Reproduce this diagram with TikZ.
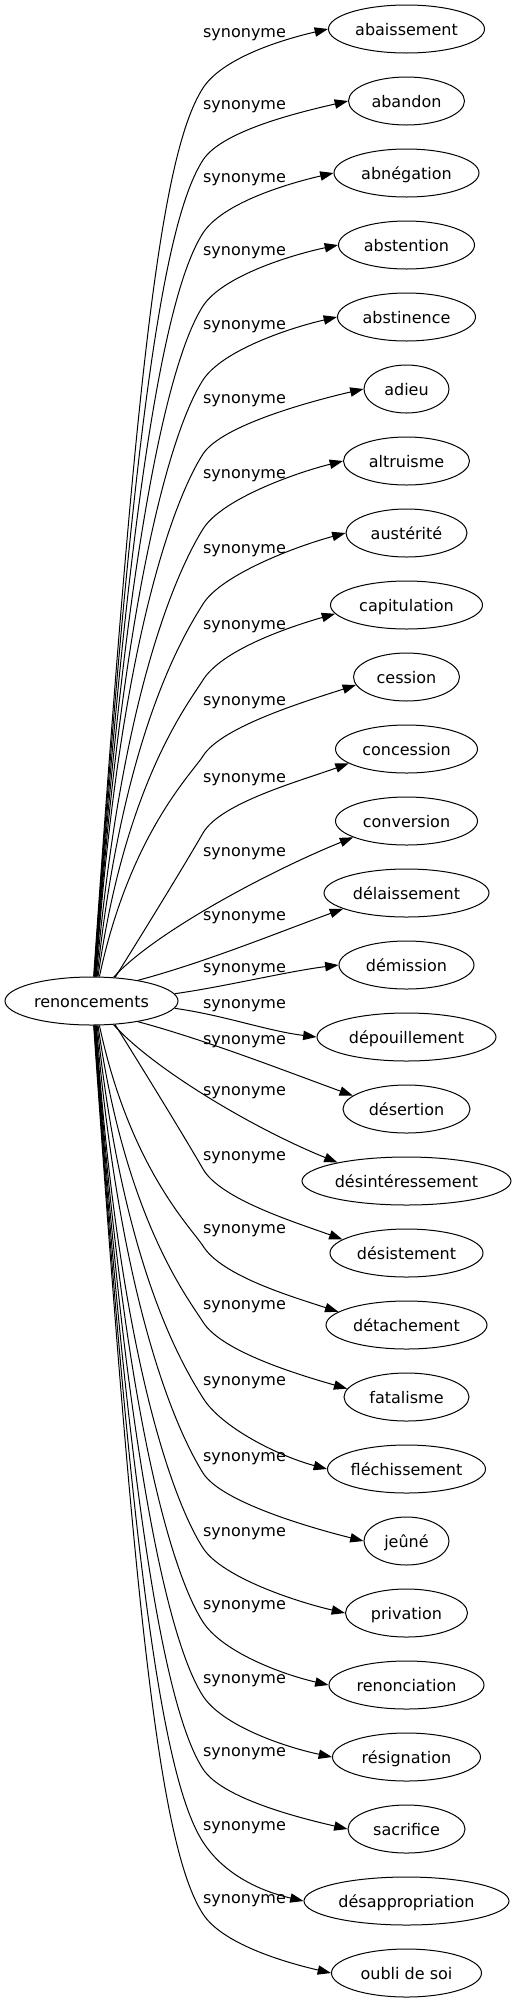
\documentclass[tikz,border=0pt]{standalone}
\usepackage{fontspec}
\setmainfont{DejaVu Sans}
\usetikzlibrary{shapes.geometric,arrows.meta}
\newcommand\synedge[8]{%
  \draw[syn] (root.#2) .. controls +(#3:#7) and +(#5+180:#8) .. (203,#4)
    .. controls +(#5:35) and +(#6+180:50) .. (#1);}
\begin{document}
\begin{tikzpicture}[x=0.75pt,y=0.75pt,
  every node/.style={font=\fontsize{12}{14}\selectfont},
  tgt/.style={draw, ellipse, inner sep=0pt, minimum height=36pt,
    minimum width=#1*0.75pt, text height=9pt, text depth=0pt, line width=0.75pt},
  lbl/.style={inner sep=0pt},
  syn/.style={line width=0.75pt, -{Triangle[length=10pt,width=7pt]}}]
\useasboundingbox (0,0) rectangle (517,-2003);
\node[tgt=173] (root) at (91.5,-1001) {renoncements};
\node[tgt=156] (t0) at (406.5,-29) {abaissement};
\node[tgt=116] (t1) at (406.5,-101) {abandon};
\node[tgt=145] (t2) at (406.5,-173) {abnégation};
\node[tgt=136] (t3) at (406.5,-245) {abstention};
\node[tgt=138] (t4) at (406.5,-317) {abstinence};
\node[tgt=85] (t5) at (406.5,-389) {adieu};
\node[tgt=126] (t6) at (406.5,-461) {altruisme};
\node[tgt=121] (t7) at (406.5,-533) {austérité};
\node[tgt=152] (t8) at (406.5,-605) {capitulation};
\node[tgt=106] (t9) at (406.5,-677) {cession};
\node[tgt=142] (t10) at (406.5,-749) {concession};
\node[tgt=142] (t11) at (406.5,-821) {conversion};
\node[tgt=165] (t12) at (406.5,-893) {délaissement};
\node[tgt=135] (t13) at (406.5,-965) {démission};
\node[tgt=179] (t14) at (406.5,-1037) {dépouillement};
\node[tgt=127] (t15) at (406.5,-1109) {désertion};
\node[tgt=209] (t16) at (406.5,-1181) {désintéressement};
\node[tgt=153] (t17) at (406.5,-1253) {désistement};
\node[tgt=161] (t18) at (406.5,-1325) {détachement};
\node[tgt=125] (t19) at (406.5,-1397) {fatalisme};
\node[tgt=158] (t20) at (406.5,-1469) {fléchissement};
\node[tgt=85] (t21) at (406.5,-1541) {jeûné};
\node[tgt=122] (t22) at (406.5,-1613) {privation};
\node[tgt=155] (t23) at (406.5,-1685) {renonciation};
\node[tgt=148] (t24) at (406.5,-1757) {résignation};
\node[tgt=117] (t25) at (406.5,-1829) {sacrifice};
\node[tgt=205] (t26) at (406.5,-1901) {désappropriation};
\node[tgt=150] (t27) at (406.5,-1973) {oubli de soi};
% labels
\foreach \i/\y in {0/34.5,1/107,2/180,3/253,4/327,5/401,6/476,7/551,8/627,9/703,
  10/780,11/854,12/918,13/970,14/1006,15/1042,16/1093,17/1158,18/1231,19/1307,
  20/1383,21/1459,22/1534,23/1607,24/1681,25/1754,26/1828,27/1901}
  \node[lbl] (l\i) at (244.5,-\y) {synonyme};
% edges
\synedge{t0.west}{85}{86}{-88}{57}{13}{587}{80}
\synedge{t1.west}{84}{86}{-160}{57}{13}{539}{74}
\synedge{t2.west}{83}{86}{-233}{57}{13}{491}{67}
\synedge{t3.west}{82}{86}{-306}{57}{12}{443}{60}
\synedge{t4.west}{81}{86}{-380}{57}{13}{394}{54}
\synedge{t5.west}{80}{86}{-454}{57}{13}{345}{47}
\synedge{t6.west}{79}{85}{-529}{58}{14}{296}{40}
\synedge{t7.west}{77}{84}{-604}{58}{15}{246}{34}
\synedge{t8.187.6}{75}{82}{-680}{58}{16}{196}{27}
\synedge{t9.189}{72}{78}{-756}{58}{18}{146}{20}
\synedge{t10.194.4}{45}{58}{-833}{60}{20}{50}{40}
\draw[syn] (root.47) .. controls +(48:60) and +(202:90) .. (t11.197.8);
\draw[syn] (root.24) .. controls +(15:70) and +(200:70) .. (t12.194.6);
\draw[syn] (root.5) .. controls +(8:50) and +(187:50) .. (t13.west);
\draw[syn] (root.355) .. controls +(-8:50) and +(173:50) .. (t14.west);
\draw[syn] (root.336) .. controls +(-15:70) and +(160:70) .. (t15.166.4);
\draw[syn] (root.313) .. controls +(-48:60) and +(158:90) .. (t16.165.6);
\synedge{t17.168.1}{315}{-58}{-1169}{-60}{-20}{50}{40}
\synedge{t18.169.6}{288}{-78}{-1246}{-58}{-18}{146}{20}
\synedge{t19.172.4}{285}{-82}{-1322}{-58}{-16}{196}{27}
\synedge{t20.west}{283}{-84}{-1398}{-58}{-15}{246}{34}
\synedge{t21.west}{281}{-85}{-1473}{-58}{-14}{296}{40}
\synedge{t22.west}{280}{-86}{-1548}{-57}{-13}{345}{47}
\synedge{t23.west}{279}{-86}{-1622}{-57}{-13}{394}{54}
\synedge{t24.west}{278}{-86}{-1696}{-57}{-12}{443}{60}
\synedge{t25.west}{277}{-86}{-1769}{-57}{-13}{491}{67}
\synedge{t26.west}{276}{-86}{-1842}{-57}{-13}{539}{74}
\synedge{t27.west}{275}{-86}{-1914}{-57}{-13}{587}{80}
\end{tikzpicture}
\end{document}
